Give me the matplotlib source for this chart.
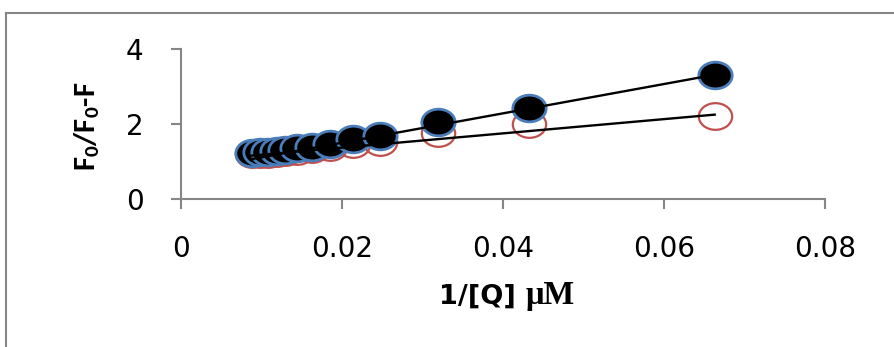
import numpy as np
import matplotlib
matplotlib.use("Agg")
import matplotlib.pyplot as plt
from matplotlib.path import Path
from matplotlib.transforms import Affine2D
from matplotlib.lines import Line2D

# Werte
inv_q = [0.0088, 0.0098, 0.0108, 0.0119, 0.0129, 0.0144, 0.0163, 0.0185, 0.0214, 0.0247, 0.0319, 0.0432, 0.0663]
ratio_black = [1.22, 1.24, 1.26, 1.28, 1.31, 1.35, 1.40, 1.48, 1.60, 1.68, 2.04, 2.43, 3.31]
ratio_red = [1.19, 1.20, 1.21, 1.23, 1.25, 1.28, 1.33, 1.40, 1.47, 1.53, 1.76, 2.00, 2.22]
# Trendlinien (Steigung, Achsenabschnitt) wie im Bild
trend_black = (39.1, 0.72)
trend_red = (19.0, 0.99)
xticks = [0, 0.02, 0.04, 0.06, 0.08]
xticklabels = ["0", "0.02", "0.04", "0.06", "0.08"]
yticks = [0, 2, 4]

grey = "#868686"
wide = ["DejaVu Sans"]

plt.rcParams["mathtext.fontset"] = "custom"
plt.rcParams["mathtext.bf"] = "Carlito:bold"
plt.rcParams["mathtext.rm"] = "Carlito:bold"

# gestauchter Kreis wie in Excel
ellipse = Path.unit_circle().transformed(Affine2D().scale(1.25, 1.0))

fig = plt.figure(figsize=(8.94, 3.47), dpi=100)
ax = fig.add_axes([181 / 894, 1 - 199 / 347, 644 / 894, 150 / 347])

x = np.array(inv_q)
ax.plot(x, ratio_red, ls="none", marker=ellipse, mfc="none", mec="#C0504D",
        mew=1.6, ms=24, zorder=3)
ax.plot(x, ratio_black, ls="none", marker=ellipse, mfc="black", mec="#4A7EBB",
        mew=2.0, ms=24, zorder=3)

xs = np.array([x.min(), x.max()])
for k, d in [trend_red, trend_black]:
    ax.plot(xs, k * xs + d, color="black", lw=1.7, zorder=4)

ax.set_xlim(0, 0.08)
ax.set_ylim(0, 4)
ax.set_xticks(xticks)
ax.set_yticks(yticks)
ax.set_xticklabels(xticklabels, family=wide, fontsize=20)
ax.set_yticklabels([str(t) for t in yticks], family=wide, fontsize=20)
ax.tick_params(axis="both", direction="out", length=7, width=1.5, color=grey)
ax.tick_params(axis="x", pad=19)
ax.tick_params(axis="y", pad=20)
for s in ["top", "right"]:
    ax.spines[s].set_visible(False)
for s in ["left", "bottom"]:
    ax.spines[s].set_color(grey)
    ax.spines[s].set_linewidth(1.5)

# Achsentitel
fig.text(516 / 894, 1 - 304 / 347, "1/[Q]", ha="right", va="baseline",
         family=wide, fontweight="bold", fontsize=19.5)
fig.text(526 / 894, 1 - 304 / 347, "\u03bcM", ha="left", va="baseline",
         family=["Liberation Serif", "DejaVu Serif"], fontweight="bold", fontsize=23.5)
fig.text(87 / 894, 1 - 126 / 347, r"$\mathbf{F_0}$/$\mathbf{F_0}$-F", rotation=90,
         ha="center", va="center", family=["Carlito", "DejaVu Sans"],
         fontweight="bold", fontsize=22)

# Rahmen des Diagrammbereichs
fig.add_artist(Line2D([6 / 894, 6 / 894], [0, 1 - 13 / 347], color=grey, lw=1.5))
fig.add_artist(Line2D([6 / 894, 1], [1 - 13 / 347, 1 - 13 / 347], color=grey, lw=1.5))

fig.savefig("out.png", dpi=100)
